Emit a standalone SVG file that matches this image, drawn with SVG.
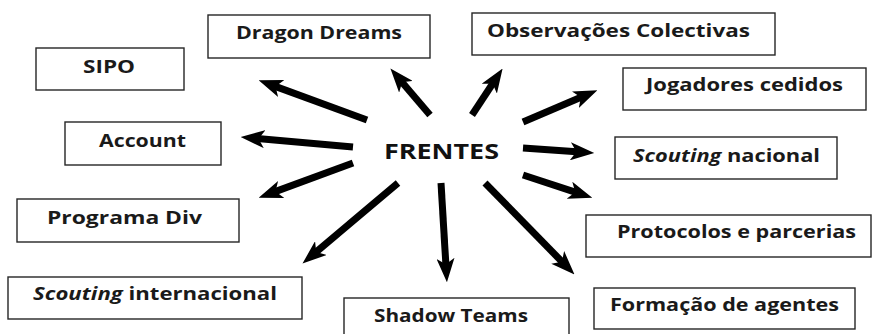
<svg xmlns="http://www.w3.org/2000/svg" width="872" height="334" viewBox="0 0 872 334">
  <style>
    .box { fill: #ffffff; stroke: #262626; stroke-width: 1.4; }
    .lbl { font-family: "Open Sans", "Liberation Sans", sans-serif; font-weight: 700; font-size: 18px; fill: #1a1a1a; }
    .hub { font-family: "Open Sans", "Liberation Sans", sans-serif; font-weight: 700; font-size: 22px; fill: #111111; }
    .it { font-style: italic; }
    .arrow { stroke: #000000; stroke-width: 7; fill: none; marker-end: url(#head); }
  </style>
  <defs>
    <marker id="head" markerUnits="userSpaceOnUse" viewBox="0 0 24 18" markerWidth="24" markerHeight="18" refX="10" refY="9" orient="auto">
      <path d="M0,0 L24,9 L0,18 L6,9 z" fill="#000000"/>
    </marker>
  </defs>
  <rect width="872" height="334" fill="#ffffff"/>

  <!-- centre label -->
  <g id="frentes">
    <text class="hub" x="384" y="159" textLength="115" lengthAdjust="spacingAndGlyphs">FRENTES</text>
  </g>

  <!-- radiating arrows -->
  <g id="connectors">
    <line class="arrow" x1="367" y1="120" x2="271.8" y2="85.1"/>
    <line class="arrow" x1="430" y1="115" x2="399.5" y2="79.2"/>
    <line class="arrow" x1="353" y1="147" x2="254.6" y2="138.3"/>
    <line class="arrow" x1="472" y1="115" x2="494.9" y2="80.3"/>
    <line class="arrow" x1="523" y1="122" x2="584.5" y2="95.8"/>
    <line class="arrow" x1="523" y1="148" x2="580.3" y2="152"/>
    <line class="arrow" x1="523" y1="175" x2="579" y2="193.4"/>
    <line class="arrow" x1="485" y1="183" x2="564.7" y2="264.5"/>
    <line class="arrow" x1="441" y1="183" x2="446.1" y2="268.3"/>
    <line class="arrow" x1="398" y1="183" x2="313.2" y2="254.5"/>
    <line class="arrow" x1="353" y1="163" x2="271.8" y2="192.9"/>
  </g>

  <g id="sipo">
    <rect class="box" x="36" y="48" width="148" height="42"/>
    <text class="lbl" x="83" y="73" textLength="52" lengthAdjust="spacingAndGlyphs">SIPO</text>
  </g>
  <g id="dragon-dreams">
    <rect class="box" x="208" y="15" width="222" height="43"/>
    <text class="lbl" x="236" y="39" textLength="166" lengthAdjust="spacingAndGlyphs">Dragon Dreams</text>
  </g>
  <g id="account">
    <rect class="box" x="65" y="122" width="156" height="43"/>
    <text class="lbl" x="99" y="147" textLength="87" lengthAdjust="spacingAndGlyphs">Account</text>
  </g>
  <g id="observacoes">
    <rect class="box" x="472" y="13" width="303" height="42"/>
    <text class="lbl" x="487" y="37" textLength="263" lengthAdjust="spacingAndGlyphs">Observações Colectivas</text>
  </g>
  <g id="jogadores">
    <rect class="box" x="623" y="68" width="243" height="42"/>
    <text class="lbl" x="646" y="91" textLength="197" lengthAdjust="spacingAndGlyphs">Jogadores cedidos</text>
  </g>
  <g id="scouting-nacional">
    <rect class="box" x="615" y="137" width="222" height="42"/>
    <text class="lbl" x="633" y="162" textLength="187" lengthAdjust="spacingAndGlyphs"><tspan class="it">Scouting</tspan> nacional</text>
  </g>
  <g id="protocolos">
    <rect class="box" x="586" y="215" width="285" height="42"/>
    <text class="lbl" x="617" y="238" textLength="239" lengthAdjust="spacingAndGlyphs">Protocolos e parcerias</text>
  </g>
  <g id="formacao">
    <rect class="box" x="594" y="288" width="261" height="41"/>
    <text class="lbl" x="610" y="311" textLength="229" lengthAdjust="spacingAndGlyphs">Formação de agentes</text>
  </g>
  <g id="shadow-teams">
    <rect class="box" x="344" y="298" width="225" height="44"/>
    <text class="lbl" x="374" y="322" textLength="154" lengthAdjust="spacingAndGlyphs">Shadow Teams</text>
  </g>
  <g id="scouting-internacional">
    <rect class="box" x="8" y="277" width="294" height="42"/>
    <text class="lbl" x="33" y="300" textLength="244" lengthAdjust="spacingAndGlyphs"><tspan class="it">Scouting</tspan> internacional</text>
  </g>
  <g id="programa-div">
    <rect class="box" x="17" y="199" width="222" height="43"/>
    <text class="lbl" x="47" y="224" textLength="155" lengthAdjust="spacingAndGlyphs">Programa Div</text>
  </g>
</svg>
